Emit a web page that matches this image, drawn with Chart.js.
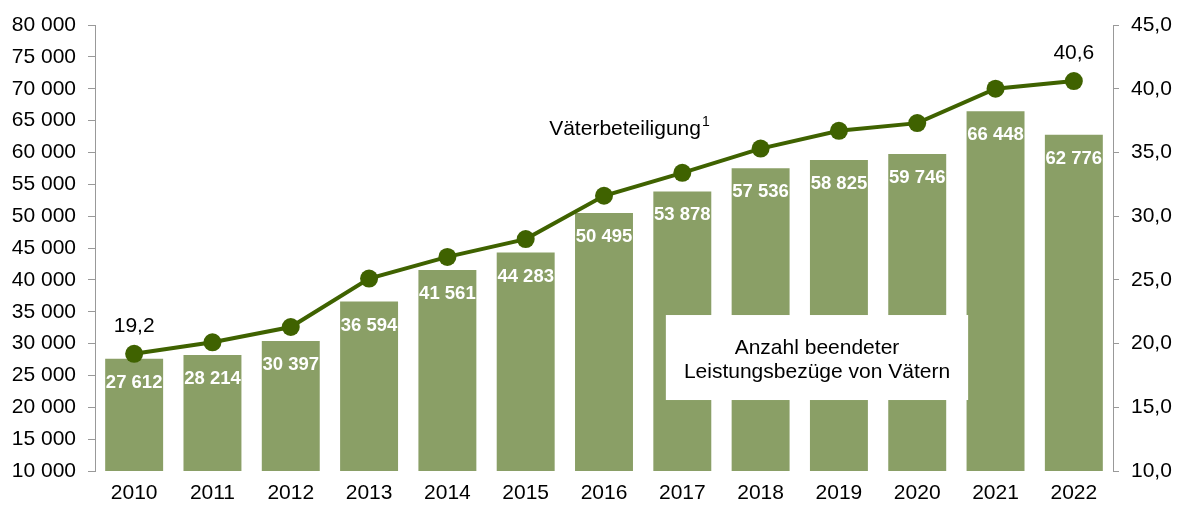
<!DOCTYPE html>
<html>
<head>
<meta charset="utf-8">
<script src="https://cdn.jsdelivr.net/npm/chart.js@4"></script>
<style>
  html, body { margin: 0; padding: 0; background: #fff; }
  #wrap { width: 1178px; height: 506px; }
</style>
</head>
<body>
<div id="wrap"><canvas id="chart" width="1178" height="506"></canvas></div>
<script>
// Data
const years = ['2010', '2011', '2012', '2013', '2014', '2015', '2016', '2017', '2018', '2019', '2020', '2021', '2022'];
const endedBenefits = [27612, 28214, 30397, 36594, 41561, 44283, 50495, 53878, 57536, 58825, 59746, 66448, 62776];
const fatherShare = [19.2, 20.1, 21.3, 25.1, 26.8, 28.2, 31.6, 33.4, 35.3, 36.7, 37.3, 40.0, 40.6];

const BAR_COLOR = '#8A9F66';
const LINE_COLOR = '#3F6200';
const FONT = '"Liberation Sans", Arial, sans-serif';

function fmtThousands(v) {
  return String(Math.round(v)).replace(/\B(?=(\d{3})+(?!\d))/g, ' ');
}
function fmtComma(v) {
  return Number(v).toFixed(1).replace('.', ',');
}

// draws bar value labels, line end labels, series title and the box
const labelPlugin = {
  id: 'labels',
  afterDatasetsDraw(chart) {
    const ctx = chart.ctx;
    const x = chart.scales.x;
    const yL = chart.scales.y;

    // bar values
    const bars = chart.getDatasetMeta(1).data;
    ctx.save();
    ctx.fillStyle = '#fff';
    ctx.font = 'bold 18.5px ' + FONT;
    ctx.textAlign = 'center';
    ctx.textBaseline = 'alphabetic';
    bars.forEach((bar, i) => {
      ctx.fillText(fmtThousands(endedBenefits[i]), bar.x, bar.y + 29);
    });

    // first / last line value
    const pts = chart.getDatasetMeta(0).data;
    ctx.fillStyle = '#000';
    ctx.font = '21px ' + FONT;
    [0, pts.length - 1].forEach(i => {
      ctx.fillText(fmtComma(fatherShare[i]), pts[i].x, pts[i].y - 22);
    });

    // series title
    ctx.textAlign = 'left';
    const tx = x.getPixelForValue(5.3);
    ctx.fillText('Väterbeteiligung', tx, 135);
    const w = ctx.measureText('Väterbeteiligung').width;
    ctx.font = '14px ' + FONT;
    ctx.fillText('1', tx + w + 1, 126);

    // box
    const bx1 = x.getPixelForValue(6.79);
    const bx2 = x.getPixelForValue(10.65);
    const by1 = yL.getPixelForValue(34480);
    const by2 = yL.getPixelForValue(21140);
    ctx.fillStyle = '#fff';
    ctx.fillRect(bx1, by1, bx2 - bx1, by2 - by1);
    ctx.fillStyle = '#000';
    ctx.font = '21px ' + FONT;
    ctx.textAlign = 'center';
    const cx = (bx1 + bx2) / 2;
    const cy = (by1 + by2) / 2;
    ctx.fillText('Anzahl beendeter', cx, cy - 4);
    ctx.fillText('Leistungsbezüge von Vätern', cx, cy + 20);
    ctx.restore();
  }
};

new Chart(document.getElementById('chart'), {
  data: {
    labels: years,
    datasets: [
      {
        type: 'line',
        label: 'Väterbeteiligung',
        data: fatherShare,
        yAxisID: 'y1',
        borderColor: LINE_COLOR,
        backgroundColor: LINE_COLOR,
        borderWidth: 4,
        pointRadius: 9,
        pointBackgroundColor: LINE_COLOR,
        pointBorderWidth: 0,
        tension: 0,
        order: 0
      },
      {
        type: 'bar',
        label: 'Anzahl beendeter Leistungsbezüge von Vätern',
        data: endedBenefits,
        yAxisID: 'y',
        backgroundColor: BAR_COLOR,
        categoryPercentage: 1,
        barPercentage: 0.74,
        order: 1
      }
    ]
  },
  options: {
    responsive: false,
    animation: false,
    layout: { padding: { top: 25, left: 0, right: 0, bottom: 0 } },
    plugins: {
      legend: { display: false },
      tooltip: { enabled: false }
    },
    scales: {
      x: {
        grid: { display: false, drawTicks: false },
        border: { display: false },
        ticks: { color: '#000', font: { family: FONT, size: 21 }, padding: 10 },
        afterFit(scale) { scale.height = 35; }
      },
      y: {
        position: 'left',
        min: 10000,
        max: 80000,
        grid: { drawOnChartArea: false, drawTicks: true, tickLength: 7, color: '#999' },
        border: { display: true, color: '#999', width: 1 },
        ticks: {
          stepSize: 5000,
          color: '#000',
          padding: 12,
          font: { family: FONT, size: 21 },
          callback: v => fmtThousands(v)
        },
        afterFit(scale) { scale.width = 95; }
      },
      y1: {
        position: 'right',
        min: 10,
        max: 45,
        grid: { drawOnChartArea: false, drawTicks: true, tickLength: 6, color: '#999' },
        border: { display: true, color: '#999', width: 1 },
        ticks: {
          stepSize: 5,
          color: '#000',
          padding: 12,
          font: { family: FONT, size: 21 },
          callback: v => fmtComma(v)
        },
        afterFit(scale) { scale.width = 65; }
      }
    }
  },
  plugins: [labelPlugin]
});
</script>
</body>
</html>
